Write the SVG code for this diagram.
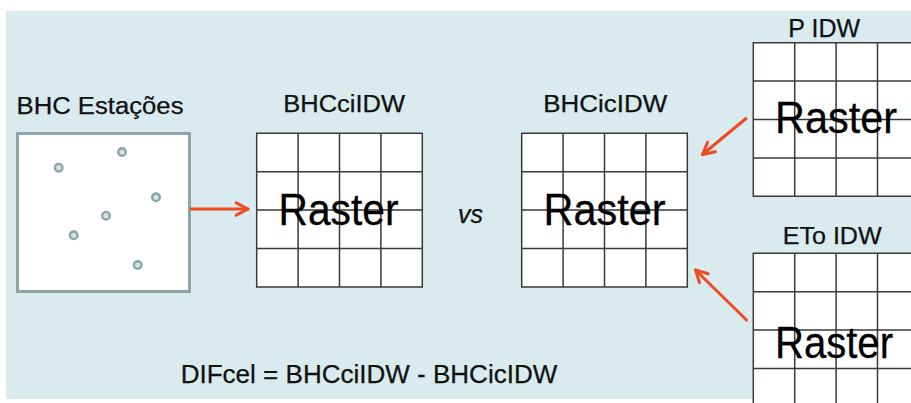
<svg xmlns="http://www.w3.org/2000/svg" xmlns:xlink="http://www.w3.org/1999/xlink" width="911" height="403" viewBox="0 0 911 403">
  <style>
    .lbl { font-family: "Liberation Sans", Arial, sans-serif; fill: #111; stroke: #111; stroke-width: 0.25; }
    .raster { font-family: "Liberation Sans", Arial, sans-serif; font-size: 45px; fill: #000; stroke: #000; stroke-width: 0.3; text-anchor: middle; }
    .gridbg { fill: #ffffff; }
    .gridln { fill: none; stroke: #3a3a3a; stroke-width: 1.5; }
    .dot { fill: #d3e3e3; stroke: #8aa6a8; stroke-width: 2.4; }
    .conn { fill: none; stroke: #f04a22; stroke-width: 3; stroke-linecap: round; }
  </style>
  <defs>
    <marker id="head" viewBox="0 0 12 12" refX="10" refY="6" markerWidth="5.5" markerHeight="5.5" orient="auto" markerUnits="strokeWidth">
      <path d="M1.5,1.5 L10,6 L1.5,10.5" fill="none" stroke="#f04a22" stroke-width="2.2" stroke-linecap="round" stroke-linejoin="round"/>
    </marker>
    <g id="grid">
      <rect class="gridbg" x="0" y="0" width="165.6" height="153.6"/>
      <path class="gridln" d="M0,0 H165.6 V153.6 H0 Z M41.4,0 V153.6 M82.8,0 V153.6 M124.2,0 V153.6 M0,38.4 H165.6 M0,76.8 H165.6 M0,115.2 H165.6"/>
    </g>
  </defs>

  <rect x="0" y="0" width="911" height="403" fill="#ffffff"/>
  <rect x="6" y="11" width="905" height="388" fill="#d9ebee"/>

  <g id="stations">
    <text class="lbl" x="16.5" y="114" font-size="23" textLength="167" lengthAdjust="spacingAndGlyphs">BHC Estações</text>
    <rect x="17.5" y="133.5" width="172" height="158" fill="#ffffff" stroke="#8ea5a8" stroke-width="3"/>
    <circle class="dot" cx="58.7" cy="167.7" r="3.8"/>
    <circle class="dot" cx="122" cy="152" r="3.8"/>
    <circle class="dot" cx="156" cy="197.3" r="3.8"/>
    <circle class="dot" cx="106" cy="215.7" r="3.8"/>
    <circle class="dot" cx="73.7" cy="235.3" r="3.8"/>
    <circle class="dot" cx="137.7" cy="265" r="3.8"/>
  </g>

  <g id="bhcciidw">
    <text class="lbl" x="283.3" y="112" font-size="23" textLength="121.7" lengthAdjust="spacingAndGlyphs">BHCciIDW</text>
    <use xlink:href="#grid" x="256.7" y="133.3"/>
    <text class="raster" x="338.5" y="225" textLength="120" lengthAdjust="spacingAndGlyphs">Raster</text>
  </g>

  <g id="vs">
    <text class="lbl" x="458" y="223" font-size="25" font-style="italic" textLength="25" lengthAdjust="spacingAndGlyphs">vs</text>
  </g>

  <g id="bhcicidw">
    <text class="lbl" x="543.3" y="112" font-size="23" textLength="124" lengthAdjust="spacingAndGlyphs">BHCicIDW</text>
    <use xlink:href="#grid" x="521.7" y="133.3"/>
    <text class="raster" x="604.5" y="225" textLength="122" lengthAdjust="spacingAndGlyphs">Raster</text>
  </g>

  <g id="pidw">
    <text class="lbl" x="788.3" y="36.7" font-size="25" textLength="71.7" lengthAdjust="spacingAndGlyphs">P IDW</text>
    <use xlink:href="#grid" x="753.3" y="42.7"/>
    <text class="raster" x="836" y="133" textLength="122" lengthAdjust="spacingAndGlyphs">Raster</text>
  </g>

  <g id="etoidw">
    <text class="lbl" x="782.7" y="244.3" font-size="24" textLength="99" lengthAdjust="spacingAndGlyphs">ETo IDW</text>
    <use xlink:href="#grid" x="753.3" y="253.3"/>
    <text class="raster" x="834" y="358.3" textLength="118" lengthAdjust="spacingAndGlyphs">Raster</text>
  </g>

  <g id="formula">
    <text class="lbl" x="180.7" y="382.7" font-size="25" textLength="376.6" lengthAdjust="spacingAndGlyphs">DIFcel = BHCciIDW  - BHCicIDW</text>
  </g>

  <g id="connectors">
    <line class="conn" x1="191" y1="209" x2="248" y2="209" marker-end="url(#head)"/>
    <line class="conn" x1="746" y1="118.5" x2="702.5" y2="154.5" marker-end="url(#head)"/>
    <line class="conn" x1="746.5" y1="320" x2="695.5" y2="270" marker-end="url(#head)"/>
  </g>
</svg>
